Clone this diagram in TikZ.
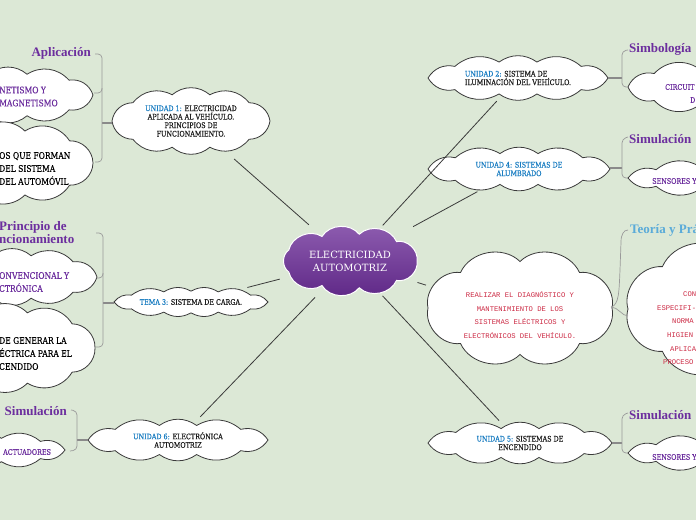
\documentclass[tikz,border=0pt]{standalone}
\usepackage{fontspec}
\setmainfont{DejaVu Serif}
\newfontfamily\slab[FakeStretch=0.84,FakeBold=0.35]{DejaVu Serif}
\newfontfamily\titlef{Liberation Serif}
\newfontfamily\monof{Liberation Mono}
\usetikzlibrary{shapes.geometric}
\definecolor{bg}{HTML}{DCE8D6}
\definecolor{ink}{HTML}{3A3A3A}
\definecolor{ink2}{HTML}{1E1E1E}
\definecolor{ublue}{HTML}{1B7EC2}
\definecolor{tpurple}{HTML}{6C2E9E}
\definecolor{tblue}{HTML}{5AABD9}
\definecolor{tred}{HTML}{CC2A44}
\definecolor{brkc}{HTML}{9A9A9A}
\definecolor{stubc}{HTML}{8A8A8A}
\definecolor{cpa}{HTML}{8E5DB0}
\definecolor{cpb}{HTML}{5E2786}
% cloud outline: [style]{cx}{cy}{W}{H}{puffs}{bend}
\newcommand\cloudat[7][]{%
  \pgfmathsetmacro\cldA{#4/2}%
  \pgfmathsetmacro\cldB{#5/2}%
  \pgfmathsetmacro\cldP{pi*(3*(\cldA+\cldB)-sqrt(3*\cldA+\cldB)*sqrt(\cldA+3*\cldB))}%
  \pgfmathsetmacro\cldG{0.8*0.294*\cldP/#6*sin(#7)}%
  \pgfmathsetmacro\cldX{\cldA}%
  \pgfmathsetmacro\cldY{\cldB-\cldG}%
  \pgfmathsetmacro\cldK{0.5*(\cldX-\cldY)/(\cldX+\cldY)}%
  \pgfmathsetmacro\cldS{360/#6}%
  \path[#1] ({#2+\cldX},{#3})
    \foreach \i in {1,...,#6} {
      to[bend left=#7] ({#2+\cldX*cos(\cldS*\i+\cldK*28.648*sin(2*\cldS*\i))},
                        {#3+\cldY*sin(\cldS*\i+\cldK*28.648*sin(2*\cldS*\i))})
    } -- cycle;
}
\tikzset{
  cloudline/.style={draw=ink, fill=white, line width=0.8pt},
  corefill/.style={draw=white, line width=1pt, top color=cpa, bottom color=cpb},
  topic/.style={ellipse, inner sep=0pt, align=center, text=ink2,
    font=\slab\fontsize{7.6}{8.5}\selectfont},
  corenode/.style={ellipse, inner sep=0pt, align=center, text=white,
    font=\fontsize{10}{13}\selectfont, minimum width=134pt, minimum height=68pt},
  link/.style={draw=ink, line width=0.8pt},
  stub/.style={draw=stubc, line width=1.4pt},
  brk/.style={draw=brkc, line width=0.7pt, rounded corners=4pt},
  titletxt/.style={font=\titlef\bfseries\fontsize{13}{13}\selectfont, text=tpurple, inner sep=0pt, align=left},
  leaftxt/.style={font=\slab\fontsize{9}{13}\selectfont, inner sep=0pt, align=left},
  smalltxt/.style={font=\slab\fontsize{7.6}{13}\selectfont, inner sep=0pt, text=tpurple},
  monotxt/.style={font=\monof\fontsize{7.2}{13.5}\selectfont, text=tred, inner sep=0pt},
}
\begin{document}
\begin{tikzpicture}[x=1pt,y=-1pt]
\fill[bg] (0,0) rectangle (696,520);
\useasboundingbox (0,0) rectangle (696,520);

% ---------- leaf clouds (partly outside the page) ----------
\cloudat[cloudline]{8}{95}{170}{54}{10}{40}
\cloudat[cloudline]{3}{163}{180}{80}{10}{45}
\cloudat[cloudline]{12}{277}{170}{55}{10}{40}
\cloudat[cloudline]{5}{348}{180}{87}{10}{45}
\cloudat[cloudline]{-15}{450}{160}{33}{10}{35}
\cloudat[cloudline]{718}{87}{180}{50}{10}{40}
\cloudat[cloudline]{718}{178}{180}{33}{10}{35}
\cloudat[cloudline]{728}{309}{200}{138}{8}{55}
\cloudat[cloudline]{718}{453}{180}{33}{10}{35}

\node[leaftxt, text=tpurple, anchor=west] (lc1t) at (-1,96.5) {NETISMO Y\\MAGNETISMO};
\node[leaftxt, text=black, anchor=west] (lc2t) at (-1,168.5) {OS QUE FORMAN\\DEL SISTEMA\\DEL AUTOMÓVIL};
\node[leaftxt, text=tpurple, anchor=west] (lc3t) at (-1,282) {ONVENCIONAL Y\\CTRÓNICA};
\node[leaftxt, text=black, anchor=west] (lc4t) at (-1,353.5) {DE GENERAR LA\\ÉCTRICA PARA EL\\CENDIDO};
\node[smalltxt, anchor=west] (lc5t) at (3,452) {ACTUADORES};
\node[smalltxt, anchor=west] (rc1t) at (665,87) {CIRCUIT};
\node[smalltxt, anchor=west] (rc1u) at (690,100) {D};
\node[smalltxt, anchor=west] (rc2t) at (652,181) {SENSORES Y};
\node[smalltxt, anchor=west] (rc4t) at (652,457) {SENSORES Y};
\node[monotxt, anchor=west] (rc3a) at (683,294) {CON};
\node[monotxt, anchor=west] (rc3b) at (657,308) {ESPECIFI-};
\node[monotxt, anchor=west] (rc3c) at (672,321) {NORMA};
\node[monotxt, anchor=west] (rc3d) at (667,335) {HIGIEN};
\node[monotxt, anchor=west] (rc3e) at (670,349) {APLICA};
\node[monotxt, anchor=west] (rc3f) at (663,362) {PROCESO};

% ---------- titles ----------
\node[titletxt, anchor=east] (tapl) at (91,53) {Aplicación};
\node[titletxt, anchor=west] (tpri) at (-1,232.5) {Principio de\\ncionamiento};
\node[titletxt, anchor=east] (tsiml) at (67,411) {Simulación};
\node[titletxt, anchor=west] (tsimb) at (629,49) {Simbología};
\node[titletxt, anchor=west] (tsim4) at (629,139) {Simulación};
\node[titletxt, anchor=west, text=tblue] (tteo) at (630,230) {Teoría y Prá};
\node[titletxt, anchor=west] (tsim5) at (629,415) {Simulación};

% ---------- main topics ----------
\cloudat[corefill]{350}{261}{134}{68}{9}{55}
\node[corenode] (core) at (350,261) {ELECTRICIDAD\\AUTOMOTRIZ};

\cloudat[cloudline]{191}{121}{158}{65}{10}{40}
\node[topic, minimum width=158pt, minimum height=65pt] (u1) at (191,121)
  {\textcolor{ublue}{UNIDAD 1:} ELECTRICIDAD\\APLICADA AL VEHÍCULO.\\PRINCIPIOS DE\\FUNCIONAMIENTO.};
\cloudat[cloudline]{518}{78}{180}{43}{10}{35}
\node[topic, minimum width=180pt, minimum height=43pt, align=left] (u2) at (518,78)
  {\textcolor{ublue}{UNIDAD 2:} SISTEMA DE\\ILUMINACIÓN DEL VEHÍCULO.};
\cloudat[cloudline]{519}{169}{182}{42}{10}{35}
\node[topic, minimum width=182pt, minimum height=42pt, text=ublue] (u4) at (519,169)
  {UNIDAD 4: SISTEMAS DE\\ALUMBRADO};
\cloudat[cloudline]{520}{308}{184}{116}{8}{55}
\node[topic, minimum width=184pt, minimum height=116pt, text=tred,
  font=\monof\fontsize{7.2}{13.5}\selectfont] (obj) at (520,315)
  {REALIZAR EL DIAGNÓSTICO Y\\MANTENIMIENTO DE LOS\\SISTEMAS ELÉCTRICOS Y\\ELECTRÓNICOS DEL VEHÍCULO.};
\cloudat[cloudline]{520}{443}{184}{40}{10}{35}
\node[topic, minimum width=184pt, minimum height=40pt] (u5) at (520,443)
  {\textcolor{ublue}{UNIDAD 5:} SISTEMAS DE\\ENCENDIDO};
\cloudat[cloudline]{178}{440}{180}{40}{10}{35}
\node[topic, minimum width=180pt, minimum height=40pt] (u6) at (178,440)
  {\textcolor{ublue}{UNIDAD 6:} ELECTRÓNICA\\AUTOMOTRIZ};
\cloudat[cloudline]{191}{302}{154}{28}{12}{30}
\node[topic, minimum width=154pt, minimum height=28pt] (t3) at (191,302)
  {\textcolor{ublue}{TEMA 3:} SISTEMA DE CARGA.};

% ---------- connectors from the core ----------
\draw[link, shorten <=12.7pt, shorten >=10pt] (u1) -- (core);
\draw[link, shorten <=2.7pt, shorten >=6.4pt] (u2) -- (core);
\draw[link, shorten <=6.6pt, shorten >=19.6pt] (u4) -- (core);
\draw[link, shorten <=12.2pt, shorten >=11pt] (obj) -- (core);
\draw[link, shorten <=3.6pt, shorten >=5.4pt] (u5) -- (core);
\draw[link, shorten <=4.7pt, shorten >=7.8pt] (u6) -- (core);
\draw[link, shorten <=11.9pt, shorten >=10.6pt] (t3) -- (core);

% ---------- brackets ----------
\coordinate (b1) at (102,123);
\draw[stub] (b1) -- (b1 -| u1.west);
\draw[brk] (95,54) -- (102,54) -- (102,162) -- (95,162);
\draw[brk] (102,88) -- (102,93) -- (94,93);

\coordinate (b3) at (103,303);
\draw[stub] (b3) -- (b3 -| t3.west);
\draw[brk] (96,233) -- (103,233) -- (103,347) -- (96,347);
\draw[brk] (103,273) -- (103,278) -- (97,278);

\coordinate (b6) at (77,440);
\draw[stub] (b6) -- (b6 -| u6.west);
\draw[brk] (71,410) -- (77,411) -- (77,450) -- (70,451);

\coordinate (b2) at (622,78);
\draw[stub] (b2) -- (b2 -| u2.east);
\draw[brk] (628,50) -- (622,51) -- (622,87) -- (628,87);

\coordinate (b4) at (622,168);
\draw[stub] (b4) -- (b4 -| u4.east);
\draw[brk] (628,137) -- (622,139) -- (622,178) -- (628,178);

\coordinate (b5) at (622,443);
\draw[stub] (b5) -- (b5 -| u5.east);
\draw[brk] (628,413) -- (622,415) -- (622,453) -- (628,453);

\coordinate (b7) at (611,307);
\draw[draw=brkc, line width=0.7pt] (b7) .. controls (619,305) and (619,292) .. (620,270)
  -- (621,242) .. controls (621,234) and (624,230) .. (628,230);
\draw[draw=brkc, line width=0.7pt] (b7) .. controls (618,307) and (622,316) .. (628,316);
\end{tikzpicture}
\end{document}
